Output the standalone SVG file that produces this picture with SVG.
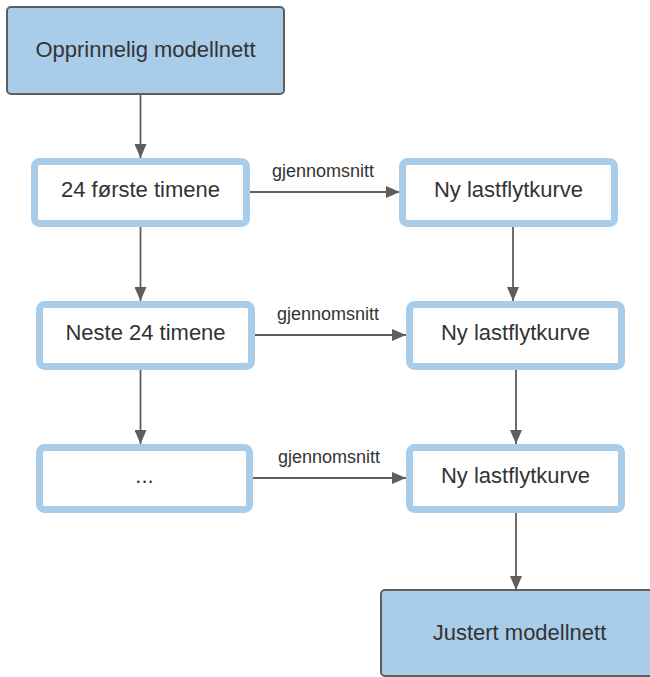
<svg xmlns="http://www.w3.org/2000/svg" width="650" height="677" viewBox="0 0 650 677">
<defs>
<style>
.dark{fill:#a9cce9;stroke:#5e5e5e;stroke-width:2}
.light{fill:#ffffff;stroke:#a9cce9;stroke-width:7}
.t{font-family:"Liberation Sans",Arial,sans-serif;font-size:22px;fill:#333333;text-anchor:middle}
.lbl{font-family:"Liberation Sans",Arial,sans-serif;font-size:18px;fill:#333333;text-anchor:middle}
.c{stroke:#5e5e5e;stroke-width:1.8;fill:none}
</style>
<marker id="ah" markerUnits="userSpaceOnUse" markerWidth="14" markerHeight="12" viewBox="0 0 14 12" refX="14" refY="6" orient="auto">
<path d="M0,0 L14,6 L0,12 Z" fill="#5e5e5e"/>
</marker>
</defs>
<rect width="650" height="677" fill="#ffffff"/>
<g id="connectors">
<path class="c" d="M140.5,94 V158" marker-end="url(#ah)"/>
<path class="c" d="M140.5,227 V301" marker-end="url(#ah)"/>
<path class="c" d="M140.5,370 V444" marker-end="url(#ah)"/>
<path class="c" d="M513,227 V301" marker-end="url(#ah)"/>
<path class="c" d="M516,370 V444" marker-end="url(#ah)"/>
<path class="c" d="M516,513 V590" marker-end="url(#ah)"/>
<path class="c" d="M250,192 H400" marker-end="url(#ah)"/>
<path class="c" d="M255,335 H406" marker-end="url(#ah)"/>
<path class="c" d="M253,478 H406" marker-end="url(#ah)"/>
<text class="lbl" x="323" y="177">gjennomsnitt</text>
<text class="lbl" x="328" y="320">gjennomsnitt</text>
<text class="lbl" x="329" y="463">gjennomsnitt</text>
</g>
<g id="n-opprinnelig">
<rect class="dark" x="7" y="7" width="277" height="87" rx="4"/>
<text class="t" x="145.5" y="57">Opprinnelig modellnett</text>
</g>
<g id="n-24forste">
<rect class="light" x="34.5" y="161.5" width="212" height="62" rx="5"/>
<text class="t" x="140.5" y="197">24 første timene</text>
</g>
<g id="n-ny1">
<rect class="light" x="402.5" y="161.5" width="212" height="62" rx="5"/>
<text class="t" x="508.5" y="197">Ny lastflytkurve</text>
</g>
<g id="n-neste24">
<rect class="light" x="39.5" y="304.5" width="212" height="62" rx="5"/>
<text class="t" x="145.5" y="340">Neste 24 timene</text>
</g>
<g id="n-ny2">
<rect class="light" x="409.5" y="304.5" width="212" height="62" rx="5"/>
<text class="t" x="515.5" y="340">Ny lastflytkurve</text>
</g>
<g id="n-dots">
<rect class="light" x="39.5" y="447.5" width="210" height="62" rx="5"/>
<text class="t" x="144.5" y="483">...</text>
</g>
<g id="n-ny3">
<rect class="light" x="409.5" y="447.5" width="212" height="62" rx="5"/>
<text class="t" x="515.5" y="483">Ny lastflytkurve</text>
</g>
<g id="n-justert">
<rect class="dark" x="381" y="590" width="277" height="86" rx="4"/>
<text class="t" x="519.5" y="640">Justert modellnett</text>
</g>
</svg>
